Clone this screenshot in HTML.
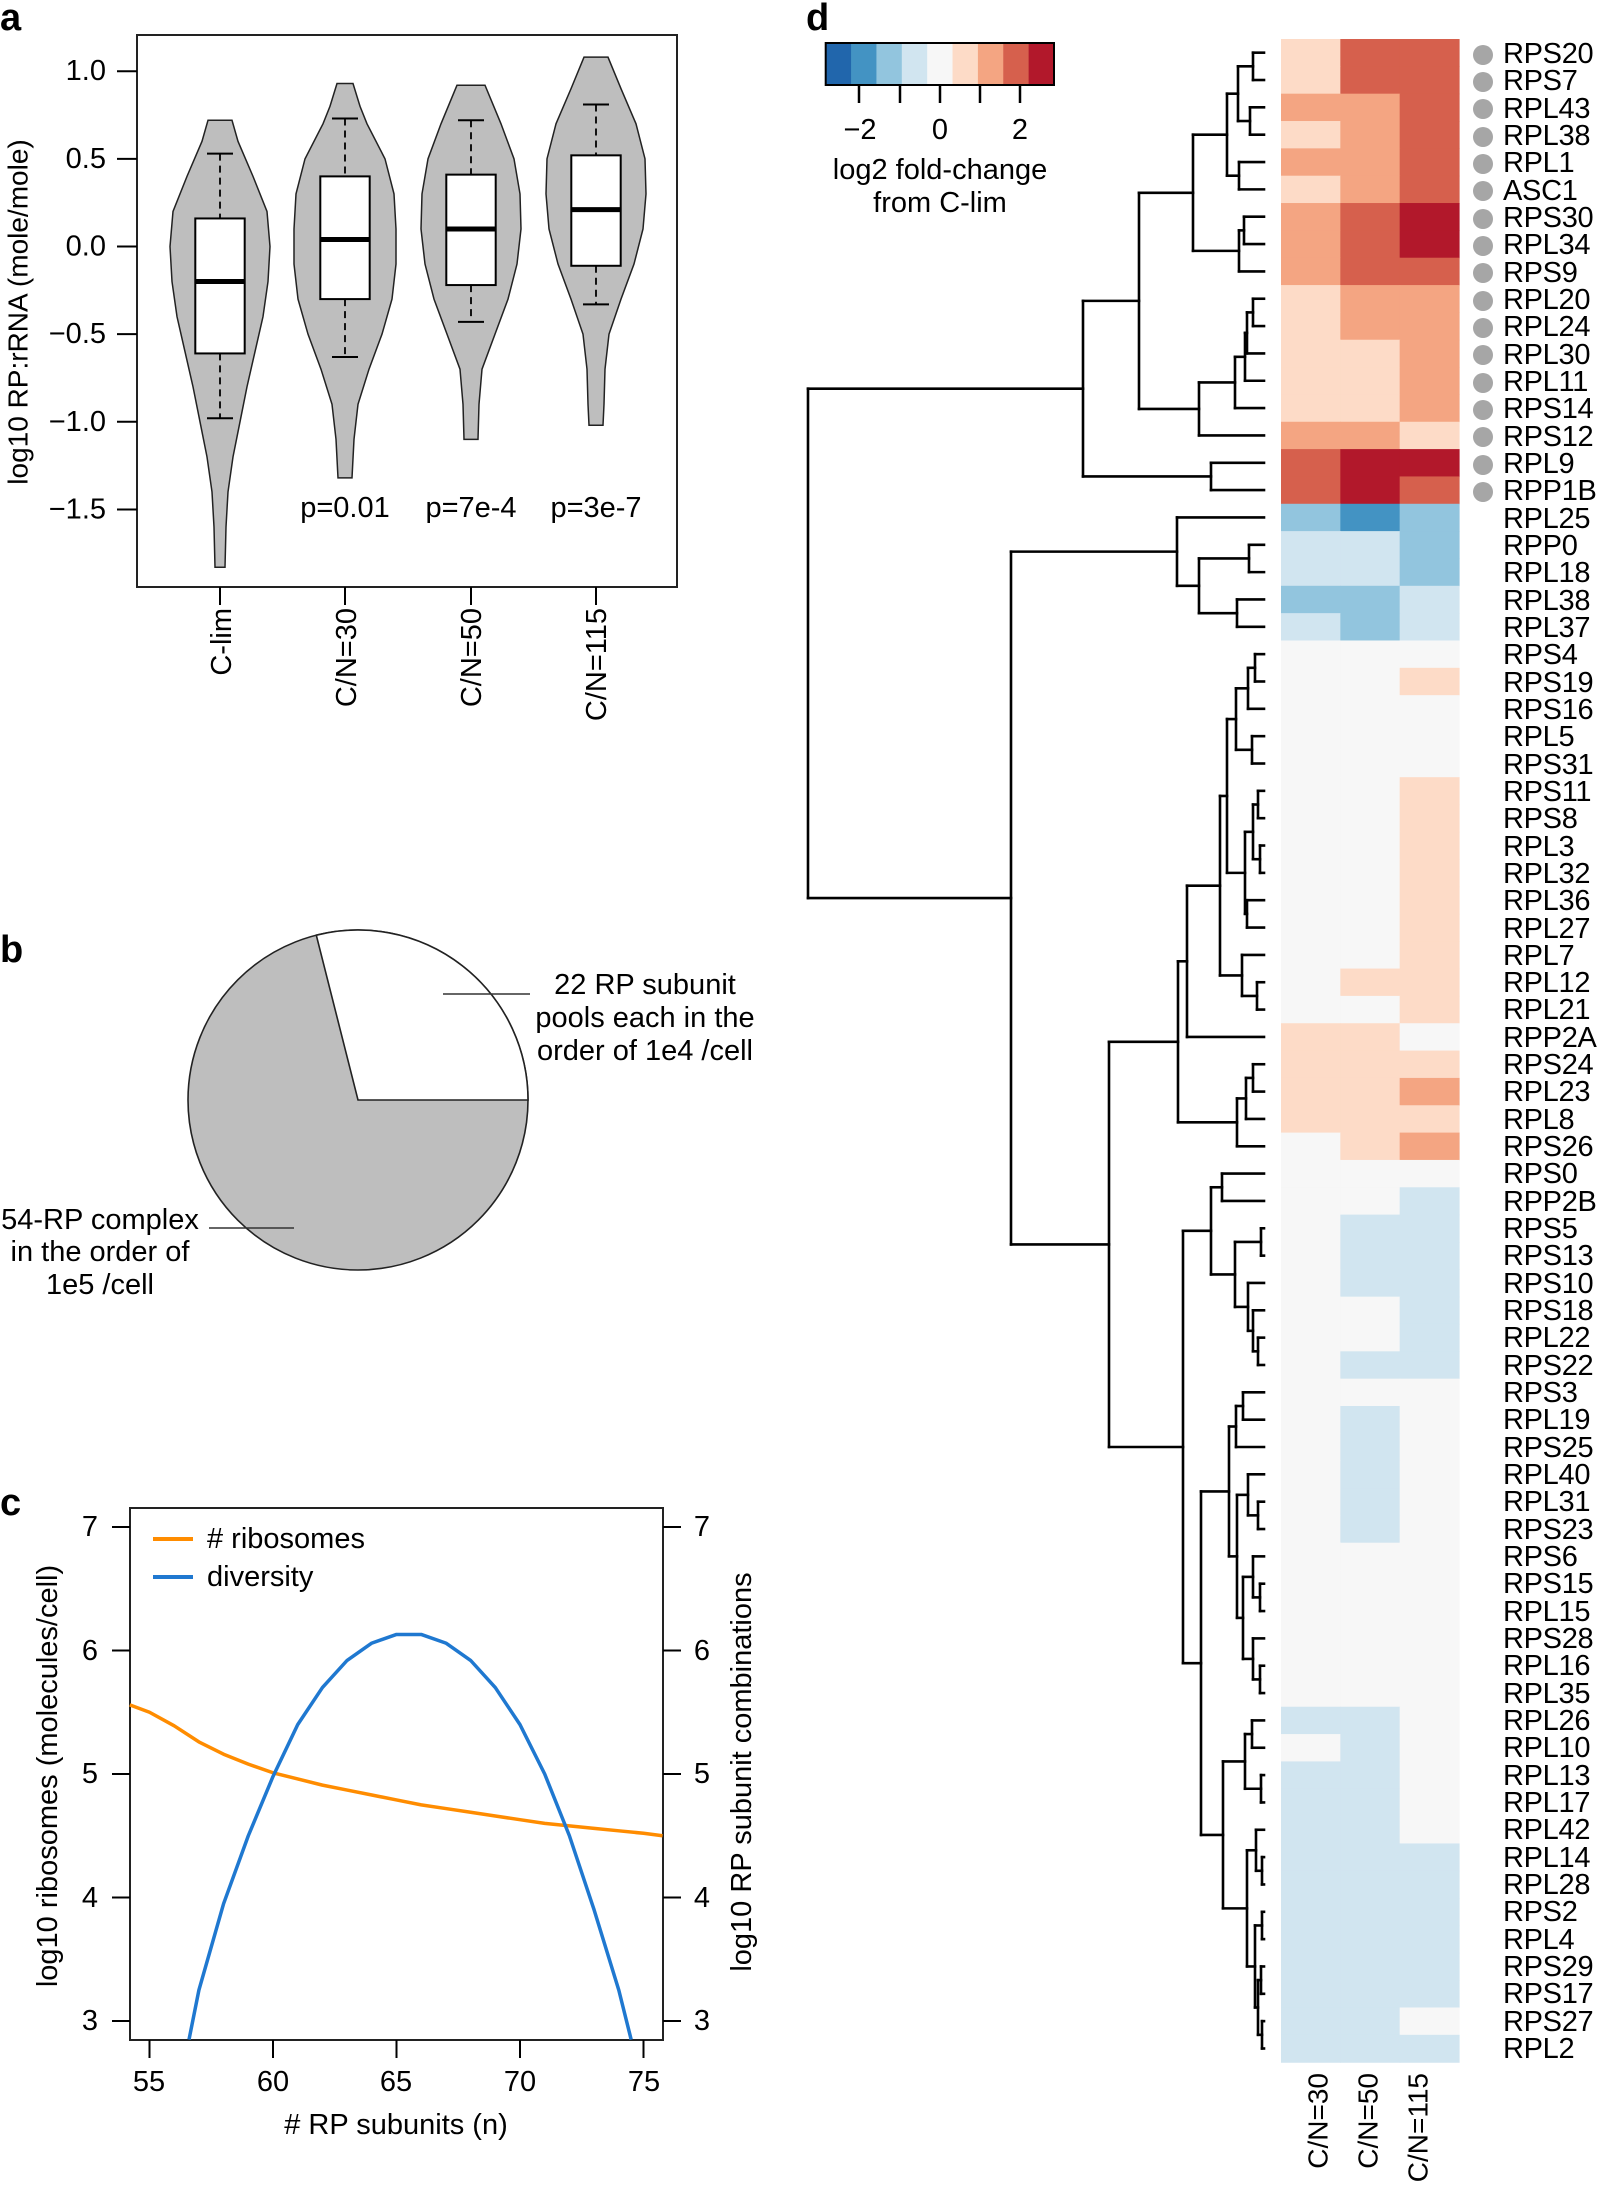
<!DOCTYPE html>
<html><head><meta charset="utf-8">
<style>
html,body{margin:0;padding:0;background:#fff;}
body{width:1598px;height:2187px;position:relative;overflow:hidden;font-family:"Liberation Sans",Arial,sans-serif;}
svg{position:absolute;left:0;top:0;}
svg text{font-family:"Liberation Sans",Arial,sans-serif;fill:#000;}
#labels{position:absolute;left:1472px;top:41px;width:126px;}
#labels div{height:27.34px;line-height:27.34px;font-size:29px;letter-spacing:-0.3px;white-space:nowrap;position:relative;padding-left:31px;}
#labels div.d::before{content:"";position:absolute;left:1px;top:3.7px;width:20px;height:20px;border-radius:50%;background:#a6a6a6;}
</style></head><body>
<svg id="s" width="1598" height="2187" viewBox="0 0 1598 2187">
<g id="g"></g>
<text x="0" y="30" font-size="38" font-weight="bold">a</text>
<text x="0" y="962" font-size="38" font-weight="bold">b</text>
<text x="0" y="1515" font-size="38" font-weight="bold">c</text>
<text x="806" y="30" font-size="38" font-weight="bold">d</text>

<g font-size="29" text-anchor="end" dominant-baseline="central">
<text x="106" y="71.2">1.0</text>
<text x="106" y="158.9">0.5</text>
<text x="106" y="246.5">0.0</text>
<text x="106" y="334.2">−0.5</text>
<text x="106" y="421.8">−1.0</text>
<text x="106" y="509.4">−1.5</text>
</g>
<text transform="translate(18,312) rotate(-90)" font-size="28" text-anchor="middle" dominant-baseline="central">log10 RP:rRNA (mole/mole)</text>
<g font-size="29" text-anchor="end" dominant-baseline="central">
<text transform="translate(222,608) rotate(-90)">C-lim</text>
<text transform="translate(347,608) rotate(-90)">C/N=30</text>
<text transform="translate(472,608) rotate(-90)">C/N=50</text>
<text transform="translate(597,608) rotate(-90)">C/N=115</text>
</g>
<g font-size="29" text-anchor="middle" dominant-baseline="central">
<text x="345" y="508">p=0.01</text>
<text x="471" y="508">p=7e-4</text>
<text x="596" y="508">p=3e-7</text>
</g>

<g font-size="29" text-anchor="middle" dominant-baseline="central">
<text x="645" y="985">22 RP subunit</text>
<text x="645" y="1018">pools each in the</text>
<text x="645" y="1051">order of 1e4 /cell</text>
<text x="100" y="1220">54-RP complex</text>
<text x="100" y="1252">in the order of</text>
<text x="100" y="1285">1e5 /cell</text>
</g>

<g font-size="29" text-anchor="middle" dominant-baseline="central">
<text x="90" y="1527">7</text><text x="90" y="1651">6</text><text x="90" y="1774">5</text><text x="90" y="1898">4</text><text x="90" y="2021">3</text>
<text x="702" y="1527">7</text><text x="702" y="1651">6</text><text x="702" y="1774">5</text><text x="702" y="1898">4</text><text x="702" y="2021">3</text>
<text x="149" y="2082">55</text><text x="273" y="2082">60</text><text x="396" y="2082">65</text><text x="520" y="2082">70</text><text x="644" y="2082">75</text>
<text x="396" y="2125">&#35; RP subunits (n)</text>
<text transform="translate(48,1776) rotate(-90)">log10 ribosomes (molecules/cell)</text>
<text transform="translate(742,1772) rotate(-90)">log10 RP subunit combinations</text>
</g>
<g font-size="29" dominant-baseline="central">
<text x="207" y="1539">&#35; ribosomes</text>
<text x="207" y="1577">diversity</text>
</g>

<g font-size="29" text-anchor="middle" dominant-baseline="central">
<text x="860" y="130">−2</text><text x="940" y="130">0</text><text x="1020" y="130">2</text>
<text x="940" y="170">log2 fold-change</text>
<text x="940" y="203">from C-lim</text>
</g>
<g font-size="28" text-anchor="end" dominant-baseline="central">
<text transform="translate(1318,2073) rotate(-90)">C/N=30</text>
<text transform="translate(1368,2073) rotate(-90)">C/N=50</text>
<text transform="translate(1418,2073) rotate(-90)">C/N=115</text>
</g>
</svg>
<div id="labels">
<div class="d">RPS20</div><div class="d">RPS7</div><div class="d">RPL43</div><div class="d">RPL38</div><div class="d">RPL1</div><div class="d">ASC1</div><div class="d">RPS30</div><div class="d">RPL34</div><div class="d">RPS9</div><div class="d">RPL20</div><div class="d">RPL24</div><div class="d">RPL30</div><div class="d">RPL11</div><div class="d">RPS14</div><div class="d">RPS12</div><div class="d">RPL9</div><div class="d">RPP1B</div>
<div>RPL25</div><div>RPP0</div><div>RPL18</div><div>RPL38</div><div>RPL37</div><div>RPS4</div><div>RPS19</div><div>RPS16</div><div>RPL5</div><div>RPS31</div><div>RPS11</div><div>RPS8</div><div>RPL3</div><div>RPL32</div><div>RPL36</div><div>RPL27</div><div>RPL7</div><div>RPL12</div><div>RPL21</div><div>RPP2A</div><div>RPS24</div><div>RPL23</div><div>RPL8</div><div>RPS26</div><div>RPS0</div><div>RPP2B</div><div>RPS5</div><div>RPS13</div><div>RPS10</div><div>RPS18</div><div>RPL22</div><div>RPS22</div><div>RPS3</div><div>RPL19</div><div>RPS25</div><div>RPL40</div><div>RPL31</div><div>RPS23</div><div>RPS6</div><div>RPS15</div><div>RPL15</div><div>RPS28</div><div>RPL16</div><div>RPL35</div><div>RPL26</div><div>RPL10</div><div>RPL13</div><div>RPL17</div><div>RPL42</div><div>RPL14</div><div>RPL28</div><div>RPS2</div><div>RPL4</div><div>RPS29</div><div>RPS17</div><div>RPS27</div><div>RPL2</div>
</div>
<script>
(function(){
var NS="http://www.w3.org/2000/svg",g=document.getElementById("g");
function el(t,a){var e=document.createElementNS(NS,t);for(var k in a)e.setAttribute(k,a[k]);g.appendChild(e);return e;}
function line(x1,y1,x2,y2,w,c,extra){var a={x1:x1,y1:y1,x2:x2,y2:y2,stroke:c||"#000","stroke-width":w||2};if(extra)for(var k in extra)a[k]=extra[k];return el("line",a);}
var COL={"-3":"#4393C3","-2":"#92C5DE","-1":"#D1E5F0","0":"#F7F7F7","1":"#FDDBC7","2":"#F4A582","3":"#D6604D","4":"#B2182B"};
function ya(v){return 71.2+(1-v)*175.3;}
var viol=[
 {c:220,prof:[[0.72,12],[0.6,18],[0.4,33],[0.2,47],[0.0,50],[-0.2,48],[-0.4,43],[-0.6,35],[-0.8,27],[-1.0,20],[-1.2,13],[-1.4,8],[-1.6,6],[-1.83,5]],b:[0.53,0.16,-0.2,-0.61,-0.98]},
 {c:345,prof:[[0.93,8],[0.8,15],[0.7,22],[0.5,40],[0.3,49],[0.1,51],[-0.1,51],[-0.3,47],[-0.5,37],[-0.7,24],[-0.9,13],[-1.1,9],[-1.32,7]],b:[0.73,0.40,0.04,-0.30,-0.63]},
 {c:471,prof:[[0.92,14],[0.7,30],[0.5,43],[0.3,49],[0.1,50],[-0.1,46],[-0.3,37],[-0.5,24],[-0.7,11],[-0.9,8],[-1.1,7]],b:[0.72,0.41,0.10,-0.22,-0.43]},
 {c:596,prof:[[1.08,12],[0.9,25],[0.7,40],[0.5,49],[0.3,50],[0.1,47],[-0.1,38],[-0.3,25],[-0.5,13],[-0.7,9],[-0.9,8],[-1.02,7]],b:[0.81,0.52,0.21,-0.11,-0.33]}];
viol.forEach(function(v){
 var L=[],R=[];v.prof.forEach(function(p){L.push((v.c-p[1])+","+ya(p[0]));R.unshift((v.c+p[1])+","+ya(p[0]));});
 el("polygon",{points:L.concat(R).join(" "),fill:"#bebebe",stroke:"#222","stroke-width":1.5});
 var b=v.b;
 line(v.c,ya(b[0]),v.c,ya(b[1]),1.8,"#000",{"stroke-dasharray":"7,5"});
 line(v.c,ya(b[3]),v.c,ya(b[4]),1.8,"#000",{"stroke-dasharray":"7,5"});
 line(v.c-13,ya(b[0]),v.c+13,ya(b[0]),2);line(v.c-13,ya(b[4]),v.c+13,ya(b[4]),2);
 el("rect",{x:v.c-24.7,y:ya(b[1]),width:49.4,height:ya(b[3])-ya(b[1]),fill:"#fff",stroke:"#000","stroke-width":2});
 line(v.c-24.7,ya(b[2]),v.c+24.7,ya(b[2]),5);
});
el("rect",{x:137,y:35,width:540,height:552,fill:"none",stroke:"#222","stroke-width":2});
[1,0.5,0,-0.5,-1,-1.5].forEach(function(v){line(117,ya(v),137,ya(v),2);});
[220,345,471,596].forEach(function(x){line(x,587,x,605,2);});
var cx=358,cy=1100,r=170,a=104.2*Math.PI/180,px=cx+r*Math.cos(a),py=cy-r*Math.sin(a);
el("circle",{cx:cx,cy:cy,r:r,fill:"#bebebe",stroke:"#222","stroke-width":1.6});
el("path",{d:"M"+cx+","+cy+" L"+(cx+r)+","+cy+" A"+r+","+r+" 0 0 0 "+px+","+py+" Z",fill:"#fff",stroke:"#222","stroke-width":1.6});
line(443,994,530,994,1.6,"#333");line(209,1228,294,1228,1.6,"#333");
function xc(n){return 273+(n-60)*24.7;}function yc(v){return 1527+(7-v)*123.5;}
el("rect",{x:130,y:1508,width:533,height:532,fill:"none",stroke:"#222","stroke-width":2});
[7,6,5,4,3].forEach(function(v){line(112,yc(v),130,yc(v),2);line(663,yc(v),681,yc(v),2);});
[55,60,65,70,75].forEach(function(n){line(xc(n),2040,xc(n),2058,2);});
var org=[[54.2,5.56],[55,5.5],[56,5.39],[57,5.26],[58,5.16],[59,5.08],[60,5.01],[61,4.96],[62,4.91],[63,4.87],[64,4.83],[65,4.79],[66,4.75],[67,4.72],[68,4.69],[69,4.66],[70,4.63],[71,4.6],[72,4.58],[73,4.56],[74,4.54],[75,4.52],[75.77,4.5]];
var blu=[[56.6,2.85],[57,3.25],[58,3.95],[59,4.5],[60,4.98],[61,5.4],[62,5.7],[63,5.92],[64,6.06],[65,6.13],[66,6.13],[67,6.06],[68,5.92],[69,5.7],[70,5.4],[71,5.0],[72,4.5],[73,3.9],[74,3.25],[74.5,2.85]];
function pl(d,c){el("polyline",{points:d.map(function(p){return xc(p[0])+","+yc(p[1]);}).join(" "),fill:"none",stroke:c,"stroke-width":3.5,"stroke-linejoin":"round"});}
pl(org,"#FF8C00");pl(blu,"#1F78D0");
line(153,1539,193,1539,4,"#FF8C00");line(153,1577,193,1577,4,"#1F78D0");
var lc=["#2166AC","#4393C3","#92C5DE","#D1E5F0","#F7F7F7","#FDDBC7","#F4A582","#D6604D","#B2182B"],lw=(1054-825.7)/9;
lc.forEach(function(c,i){el("rect",{x:825.7+i*lw,y:43,width:lw+0.5,height:42,fill:c});});
el("rect",{x:825.7,y:43,width:1054-825.7,height:42,fill:"none",stroke:"#000","stroke-width":2});
[859,900,940,980,1020].forEach(function(x){line(x,85,x,103,2.5);});
var H=[[1,3,3],[1,3,3],[2,2,3],[1,2,3],[2,2,3],[1,2,3],[2,3,4],[2,3,4],[2,3,3],[1,2,2],[1,2,2],[1,1,2],[1,1,2],[1,1,2],[2,2,1],[3,4,4],[3,4,3],
[-2,-3,-2],[-1,-1,-2],[-1,-1,-2],[-2,-2,-1],[-1,-2,-1],
[0,0,0],[0,0,1],[0,0,0],[0,0,0],[0,0,0],[0,0,1],[0,0,1],[0,0,1],[0,0,1],[0,0,1],[0,0,1],[0,0,1],[0,1,1],[0,0,1],[1,1,0],[1,1,1],[1,1,2],[1,1,1],[0,1,2],
[0,0,0],[0,0,-1],[0,-1,-1],[0,-1,-1],[0,-1,-1],[0,0,-1],[0,0,-1],[0,-1,-1],
[0,0,0],[0,-1,0],[0,-1,0],[0,-1,0],[0,-1,0],[0,-1,0],[0,0,0],[0,0,0],[0,0,0],[0,0,0],[0,0,0],[0,0,0],
[-1,-1,0],[0,-1,0],[-1,-1,0],[-1,-1,0],[-1,-1,0],[-1,-1,-1],[-1,-1,-1],[-1,-1,-1],[-1,-1,-1],[-1,-1,-1],[-1,-1,-1],[-1,-1,0],[-1,-1,-1]];
var RH=27.34,T0=39,cw=(1459-1281)/3;
H.forEach(function(r,i){r.forEach(function(v,j){el("rect",{x:1281+j*cw,y:T0+i*RH,width:cw+0.6,height:RH+0.6,fill:COL[v]});});});
function ry(i){return T0+RH*(i+0.5);}
var A1a=[1227,[1238,[1253,0,1],[1250,2,3]],[1239,4,5]],A1b=[1239,[1244,6,7],8],A1=[1193,A1a,A1b];
var A2=[1199,[1235,[1245,[1247,[1253,9,10],11],12],13],14];
var A=[1083,[1139,A1,A2],[1211,15,16]];
var B1=[1177,17,[1199,[1249,18,19],[1237,20,21]]];
var R1=[1236,[1248,[1255,22,23],24],[1252,25,26]],R2=[1253,[1258,27,28],[1260,29,30]];
var T1=[1227,R1,[1245,R2,[1247,31,32]]],T2=[1220,T1,[1242,33,[1257,34,35]]],T3=[1187,T2,36];
var B2a=[1178,T3,[1237,[1246,[1253,37,38],39],40]];
var B2bt=[1211,[1222,41,42],[1235,[1261,43,44],[1248,45,[1253,46,[1258,47,48]]]]];
var N1=[1229,[1236,[1243,49,50],51],[1237,[1248,52,[1258,53,54]],[1243,[1253,55,[1260,56,57]],[1253,58,[1260,59,60]]]]];
var N2=[1223,[1245,[1252,61,62],[1261,63,64]],[1247,[1256,65,[1262,66,67]],[1255,[1262,68,69],[1258,[1261,70,71],[1262,72,73]]]]];
var B2=[1109,B2a,[1183,B2bt,[1201,N1,N2]]];
var root=[808,A,[1011,B1,B2]];
var LEAF=1264;
function draw(n){
 if(typeof n==="number")return {x:LEAF,y:ry(n)};
 var l=draw(n[1]),r=draw(n[2]),h=n[0];
 line(h,l.y,h,r.y,2.6,"#000",{"stroke-linecap":"square"});
 line(h,l.y,l.x,l.y,2.6,"#000",{"stroke-linecap":"square"});
 line(h,r.y,r.x,r.y,2.6,"#000",{"stroke-linecap":"square"});
 return {x:h,y:(l.y+r.y)/2};
}
draw(root);
})();
</script>
</body></html>
